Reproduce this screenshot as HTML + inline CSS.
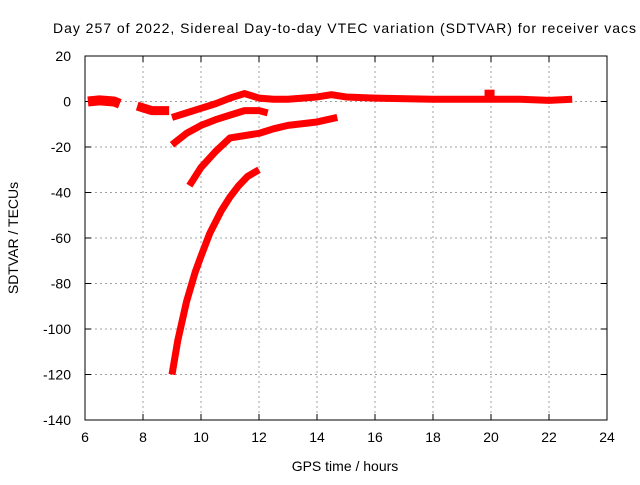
<!DOCTYPE html>
<html><head><meta charset="utf-8"><style>
body{margin:0;background:#fff}
svg text{font-family:"Liberation Sans",sans-serif;font-size:14px;fill:#000}
</style></head><body>
<svg id="c" width="640" height="480">
<text x="53" y="33" textLength="583" lengthAdjust="spacing">Day 257 of 2022, Sidereal Day-to-day VTEC variation (SDTVAR) for receiver vacs</text>
<g id="grid"></g>
<g id="axes"></g>
<g id="series"></g>
<text x="345" y="471" text-anchor="middle">GPS time / hours</text>
<text transform="translate(18,238) rotate(-90)" text-anchor="middle">SDTVAR / TECUs</text>
</svg>
<script>
const xTicks=[6,8,10,12,14,16,18,20,22,24];
const yTicks=[20,0,-20,-40,-60,-80,-100,-120,-140];
const seriesA1=[[6.1,0],[6.5,0.5],[7.0,0],[7.2,-1]];
const seriesA2=[[7.8,-2],[8.3,-4],[8.9,-4]];
const seriesA3=[[9.0,-7],[9.5,-5],[10,-3],[10.5,-1],[11,1.5],[11.5,3.5],[12,1.5],[12.5,1],[13,1],[14,2],[14.5,3],[15,2],[16,1.5],[18,1],[20,1],[21,1],[22,0.5],[22.8,1]];
const seriesB=[[9.0,-19],[9.5,-14],[10,-10.5],[10.5,-8],[11,-6],[11.5,-4],[12,-4],[12.3,-5]];
const seriesC=[[9.6,-37],[10,-29],[10.5,-22],[11,-16],[11.5,-15],[12,-14],[12.5,-12],[13,-10.5],[14,-9],[14.7,-7]];
const seriesD=[[9.0,-120],[9.2,-105],[9.5,-88],[9.8,-75],[10,-68],[10.3,-58],[10.7,-48],[11,-42],[11.3,-37],[11.6,-33],[12,-30]];
const spikes=[[19.95,3]];
const X=h=>85+(h-6)*522/18, Y=v=>56+(20-v)*364/160;
const NS='http://www.w3.org/2000/svg';
function mk(t,a,p){const e=document.createElementNS(NS,t);for(const k in a)e.setAttribute(k,a[k]);p.appendChild(e);return e;}
const g=document.getElementById('grid'),ax=document.getElementById('axes'),s=document.getElementById('series');
xTicks.forEach(t=>{
 if(t>6&&t<24){const l=mk('line',{x1:X(t),x2:X(t),y1:56,y2:420,stroke:'#a0a0a0','stroke-dasharray':'2,3'},g);
 
 }
 const tx=mk('text',{x:X(t),y:442,'text-anchor':'middle'},ax);tx.textContent=t;
 
 
 mk('line',{x1:X(t),x2:X(t),y1:420,y2:414,stroke:'#000'},ax);
 mk('line',{x1:X(t),x2:X(t),y1:56,y2:62,stroke:'#000'},ax);
});
yTicks.forEach(t=>{
 if(t<20&&t>-140){const l=mk('line',{x1:85,x2:607,y1:Y(t),y2:Y(t),stroke:'#a0a0a0','stroke-dasharray':'2,3'},g);
 
 }
 const tx=mk('text',{x:71,y:Y(t)+5,'text-anchor':'end'},ax);tx.textContent=t;
 
 
 mk('line',{x1:85,x2:91,y1:Y(t),y2:Y(t),stroke:'#000'},ax);
 mk('line',{x1:607,x2:601,y1:Y(t),y2:Y(t),stroke:'#000'},ax);
});
mk('rect',{x:85,y:56,width:522,height:364,fill:'none',stroke:'#000'},ax);
const widths=[10,9,7,7,7,7];
[seriesA1,seriesA2,seriesA3,seriesB,seriesC,seriesD].forEach((d,i)=>{
 const p=mk('polyline',{points:d.map(q=>X(q[0])+','+Y(q[1])).join(' '),fill:'none',stroke:'#f00','stroke-width':widths[i],'stroke-linejoin':'round'},s);
 
 
});
spikes.forEach(q=>{
 const r=mk('rect',{x:X(q[0])-5,y:Y(q[1])-5,width:10,height:10,fill:'#f00'},s);
 
 
});
</script>
</body></html>
